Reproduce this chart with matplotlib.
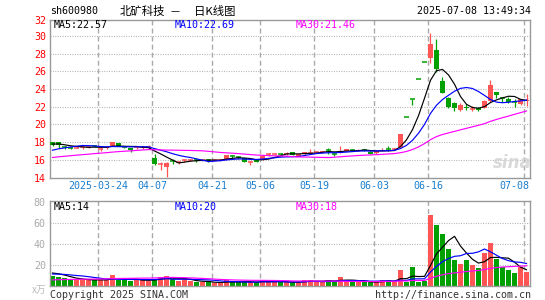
import matplotlib
matplotlib.use('Agg')
import matplotlib.pyplot as plt
import matplotlib.transforms as mtrans
import numpy as np

# ---------------- data ----------------
dates = ['03-12', '03-13', '03-14', '03-17', '03-18', '03-19', '03-20', '03-21', '03-24', '03-25',
         '03-26', '03-27', '03-28', '03-31', '04-01', '04-02', '04-03', '04-07', '04-08', '04-09',
         '04-10', '04-11', '04-14', '04-15', '04-16', '04-17', '04-18', '04-21', '04-22', '04-23',
         '04-24', '04-25', '04-28', '04-29', '04-30', '05-06', '05-07', '05-08', '05-09', '05-12',
         '05-13', '05-14', '05-15', '05-16', '05-19', '05-20', '05-21', '05-22', '05-23', '05-26',
         '05-27', '05-28', '05-29', '05-30', '06-03', '06-04', '06-05', '06-06', '06-09', '06-10',
         '06-11', '06-12', '06-13', '06-16', '06-17', '06-18', '06-19', '06-20', '06-23', '06-24',
         '06-25', '06-26', '06-27', '06-30', '07-01', '07-02', '07-03', '07-04', '07-07', '07-08']

opens = [18.00, 17.98, 17.50, 17.42, 17.35, 17.38, 17.40, 17.62, 17.20, 17.28,
         17.57, 17.85, 17.45, 17.28, 17.40, 17.45, 17.40, 16.15, 15.45, 15.20,
         15.90, 15.72, 15.90, 16.00, 15.95, 15.95, 15.95, 15.92, 15.95, 16.00,
         16.45, 16.35, 16.15, 15.70, 16.00, 16.00, 16.62, 16.68, 16.72, 16.60,
         16.85, 16.42, 16.60, 16.80, 16.85, 16.85, 17.08, 16.72, 16.75, 17.00,
         17.12, 17.00, 17.12, 16.90, 16.75, 17.00, 17.25, 17.15, 17.40, 20.81,
         22.89, 25.09, 27.06, 27.47, 28.42, 24.90, 22.94, 22.40, 21.60, 21.95,
         21.70, 21.85, 21.90, 22.70, 23.66, 23.00, 22.83, 22.60, 22.30, 22.60]
highs = [18.05, 18.00, 17.55, 17.50, 17.50, 17.55, 17.52, 17.70, 17.35, 17.50,
         18.02, 17.88, 17.50, 17.30, 17.55, 17.60, 17.62, 16.60, 15.75, 15.70,
         16.10, 15.85, 16.10, 16.12, 16.15, 16.05, 16.05, 16.00, 16.05, 16.55,
         16.55, 16.45, 16.20, 15.85, 16.05, 16.48, 16.75, 16.78, 16.75, 16.85,
         16.88, 16.65, 16.92, 17.22, 16.95, 17.02, 17.35, 16.85, 17.60, 17.25,
         17.25, 17.20, 17.20, 16.95, 17.02, 17.30, 17.55, 17.30, 18.92, 20.81,
         22.89, 25.09, 27.06, 30.30, 29.70, 25.40, 23.15, 22.55, 22.45, 22.35,
         22.10, 21.95, 22.80, 25.00, 23.70, 23.10, 23.10, 22.90, 22.90, 23.40]
lows = [17.60, 17.30, 17.25, 17.20, 17.30, 17.25, 17.30, 17.40, 16.95, 17.20,
        17.55, 17.55, 17.30, 16.85, 17.25, 17.25, 17.20, 15.45, 14.85, 14.05,
        15.55, 15.55, 15.80, 15.88, 15.75, 15.85, 15.80, 15.85, 15.90, 15.95,
        16.15, 16.10, 15.75, 15.40, 15.75, 15.95, 16.40, 16.55, 16.40, 16.55,
        16.50, 16.38, 16.55, 16.75, 16.80, 16.80, 16.70, 16.45, 16.72, 16.95,
        17.00, 16.95, 17.05, 16.60, 16.70, 16.95, 17.00, 17.10, 17.30, 20.81,
        22.19, 25.09, 27.06, 26.98, 25.96, 23.50, 21.80, 21.55, 21.50, 21.60,
        21.55, 21.55, 21.80, 22.50, 22.95, 22.55, 22.40, 22.00, 22.15, 22.10]
closes = [17.65, 17.72, 17.42, 17.35, 17.40, 17.42, 17.45, 17.55, 17.22, 17.45,
          18.00, 17.58, 17.40, 17.12, 17.45, 17.50, 17.42, 15.50, 15.50, 15.65,
          15.80, 15.78, 15.95, 16.05, 15.90, 16.00, 15.90, 15.98, 16.02, 16.50,
          16.40, 16.30, 15.78, 15.72, 15.80, 16.45, 16.65, 16.70, 16.68, 16.80,
          16.55, 16.60, 16.90, 16.82, 16.90, 17.00, 17.05, 16.70, 17.00, 17.20,
          17.10, 17.15, 17.10, 16.65, 17.00, 17.15, 17.20, 17.22, 18.92, 20.81,
          22.89, 25.09, 27.06, 29.09, 26.23, 23.58, 22.00, 21.80, 22.15, 21.80,
          21.78, 21.62, 22.70, 24.45, 23.30, 22.90, 22.56, 22.57, 22.83, 22.75]
volumes = [9.4, 8.5, 6.9, 5.3, 5.3, 5.5, 5.3, 5.3, 5.6, 5.3,
           10.4, 5.3, 5.3, 4.6, 5.3, 5.3, 4.5, 6.5, 8.5, 9.4,
           6.2, 4.0, 6.2, 4.0, 3.2, 3.0, 3.2, 2.4, 2.6, 5.3,
           3.2, 3.4, 3.2, 3.0, 3.4, 5.6, 3.2, 3.4, 3.2, 3.0,
           3.2, 3.0, 5.6, 5.6, 3.4, 3.2, 5.6, 4.0, 8.5, 4.6,
           3.2, 3.4, 3.2, 3.0, 3.2, 5.6, 5.6, 3.2, 15.2, 3.2,
           18.1, 3.4, 4.0, 68.0, 58.4, 50.0, 35.4, 24.8, 21.0, 24.8,
           20.0, 17.1, 31.5, 41.0, 25.8, 17.8, 15.2, 12.3, 17.4, 13.3]

# estimated closes / volumes of the 29 sessions before the window (for MA start values)
pre_closes = [15.5, 15.6, 15.4, 15.5, 15.7, 15.8, 15.6, 15.7, 15.9, 16.0,
              15.9, 16.1, 16.0, 15.9, 16.0, 16.1, 16.0, 16.1, 16.2, 16.0,
              16.2, 16.3, 16.4, 16.5, 16.6, 17.6, 17.9, 17.9, 17.8]
pre_volumes = [2.5, 2.8, 2.4, 2.6, 2.7, 2.5, 2.6, 2.8, 2.4, 2.6,
               2.7, 2.5, 2.6, 2.6, 2.5, 2.7, 2.6, 2.6, 2.7, 2.6,
               9.0, 10.0, 10.0, 11.0, 10.0, 12.0, 13.0, 13.0, 12.6]

tick_dates = ['03-24', '04-07', '04-21', '05-06', '05-19', '06-03', '06-16', '07-08']
tick_texts = ['2025-03-24', '04-07', '04-21', '05-06', '05-19', '06-03', '06-16', '07-08']
price_ticks = [14, 16, 18, 20, 22, 24, 26, 28, 30]
vol_ticks = [20, 40, 60, 80]

code = 'sh600980'
title_parts = ['北矿科技', '—', '日K线图']
stamp = '2025-07-08 13:49:34'
ma_price_labels = ['MA5:22.57', 'MA10:22.69', 'MA30:21.46']
ma_vol_labels = ['MA5:14', 'MA10:20', 'MA30:18']

# ---------------- style ----------------
RED = '#ff5555'
GREEN = '#00a000'
MA_COLORS = ['#000000', '#0000ff', '#ff00ff']
GRID = '#aaaaaa'
BORDER = '#999999'
DATE_C = '#1a7fd0'
MONO = 'DejaVu Sans Mono'
CJK = ['Noto Sans CJK SC', 'DejaVu Sans']

W, H = 545, 300
fig = plt.figure(figsize=(W / 100, H / 100), dpi=100)
fig.patch.set_facecolor('white')


def rect(l, t, r, b):
    return [l / W, 1 - b / H, (r - l) / W, (b - t) / H]


ax = fig.add_axes(rect(50, 20, 529.5, 177.5))
axv = fig.add_axes(rect(50, 201, 529.5, 285.5))

n = len(closes)
x = np.arange(n)
o = np.array(opens); c = np.array(closes); h = np.array(highs); l = np.array(lows)
v = np.array(volumes)
up = c > o
cols = [RED if u else GREEN for u in up]
bw = 5 / 6


def ma(pre, vals, k):
    s = np.concatenate([pre, vals])
    return np.array([s[len(pre) + i - k + 1: len(pre) + i + 1].mean() for i in range(len(vals))])


for a in (ax, axv):
    a.set_xlim(-5 / 12, 79.5)
    for sp in a.spines.values():
        sp.set_color(BORDER)
        sp.set_linewidth(1.0)
    a.set_xticks([])
    a.tick_params(axis='y', length=0, pad=3)
    for d in tick_dates:
        a.axvline(dates.index(d) - 5 / 12, color=GRID, lw=1.0, ls=(0, (3.6, 2.2)), zorder=0)

# ----- main panel -----
ax.set_ylim(14, 14 + 157.5 / 8.85)
for yv in price_ticks[1:]:
    ax.axhline(yv, color=GRID, lw=0.8, ls=(0, (0.8, 1.4)), zorder=0)
ax.set_yticks(price_ticks)
ax.set_yticklabels([str(t) for t in price_ticks], color='#ff0000', fontsize=7.2, family=MONO)

ax.vlines(x, l, h, colors=cols, lw=0.9, zorder=2)
body = np.abs(c - o)
thick = body >= 0.11
ax.bar(x[thick], body[thick], bottom=np.minimum(o, c)[thick], width=bw,
       color=np.array(cols)[thick], linewidth=0, zorder=3)
thin = ~thick
ax.hlines(((o + c) / 2)[thin], x[thin] - bw / 2, x[thin] + bw / 2,
          colors=np.array(cols)[thin], lw=1.1, zorder=3)

for k, col in zip([5, 10, 30], MA_COLORS):
    ax.plot(x, ma(pre_closes, c, k), color=col, lw=0.85, zorder=4)

# ----- volume panel -----
axv.set_ylim(0, 84.5 / 1.04)
for yv in [20, 40, 60]:
    axv.axhline(yv, color=GRID, lw=0.8, ls=(0, (0.8, 1.4)), zorder=0)
axv.set_yticks(vol_ticks)
axv.set_yticklabels([str(t) for t in vol_ticks], color='#aaaaaa', fontsize=7.2, family=MONO)
axv.bar(x, v, width=bw, color=cols, linewidth=0, zorder=2)
for k, col in zip([5, 10, 30], MA_COLORS):
    axv.plot(x, ma(pre_volumes, v, k), color=col, lw=0.85, zorder=4)

# ----- texts -----
def ptext(px, py, s, **kw):
    fig.text(px / W, 1 - py / H, s, **kw)

ptext(50, 11.5, code, fontsize=7.2, family=MONO, va='center', ha='left')
ptext(120, 11.5, title_parts[0], fontsize=8.2, family=CJK, va='center', ha='left')
ptext(175.5, 11.8, title_parts[1], fontsize=6.5, family='DejaVu Sans', va='center', ha='center')
ptext(194, 11.5, title_parts[2], fontsize=8.2, family=CJK, va='center', ha='left')
ptext(531, 11.5, stamp, fontsize=7.2, family=MONO, va='center', ha='right')
ptext(46, 20.5, '32', fontsize=7.2, family=MONO, va='center', ha='right', color='#ff0000')

for px, s, col in zip([54, 175, 296], ma_price_labels, MA_COLORS):
    ptext(px, 25.5, s, fontsize=7.2, family=MONO, va='center', ha='left', color=col)
for px, s, col in zip([54, 175, 296], ma_vol_labels, MA_COLORS):
    ptext(px, 207, s, fontsize=7.2, family=MONO, va='center', ha='left', color=col)

trans = mtrans.blended_transform_factory(ax.transData, fig.transFigure)
for d, s in zip(tick_dates, tick_texts):
    xi = dates.index(d) - 5 / 12
    if d == tick_dates[-1]:
        ax.text(79.5, 1 - 186 / H, s, transform=trans, fontsize=7.2, family=MONO,
                color=DATE_C, ha='right', va='center')
    else:
        ax.text(xi, 1 - 186 / H, s, transform=trans, fontsize=7.2, family=MONO,
                color=DATE_C, ha='center', va='center')

ptext(46, 289.5, 'x万', fontsize=7, family=CJK, va='center', ha='right', color='#bbbbbb')
ptext(50, 295, 'Copyright 2025 SINA.COM', fontsize=7.2, family=MONO, va='center', ha='left', color='#333333')
ptext(531, 295, 'http://finance.sina.com.cn', fontsize=7.2, family=MONO, va='center', ha='right', color='#333333')
ptext(512, 163, 'sina', fontsize=12, family='DejaVu Sans', style='italic', weight='bold',
      va='center', ha='center', color='#d0d0d0', alpha=0.8)

fig.savefig('out.png', dpi=100, facecolor='white')
